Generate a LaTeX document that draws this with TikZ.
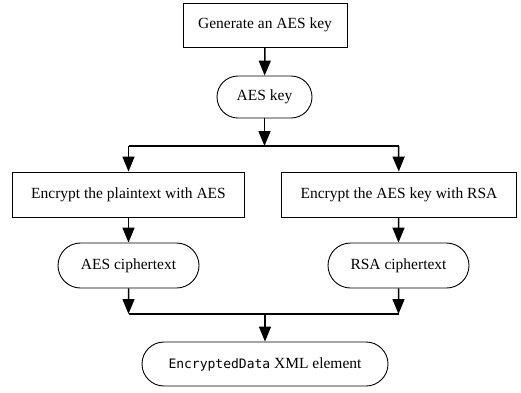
\documentclass[tikz,border=0pt]{standalone}
\usepackage{fontspec}
\setmainfont{Liberation Serif}
\setmonofont{DejaVu Sans Mono}
\usetikzlibrary{arrows.meta,shapes.misc}
\begin{document}
\begin{tikzpicture}[x=1pt,y=-1pt,
  lbl/.style={font=\fontsize{15.5}{18}\selectfont},
  proc/.style={lbl, draw, line width=0.9pt, minimum height=44pt, inner sep=0pt},
  term/.style={lbl, draw, line width=0.9pt, rounded rectangle, minimum height=44pt, inner sep=0pt},
  conn/.style={line width=1.5pt, -{Triangle[length=15pt,width=12pt]}},
  bar/.style={line width=1.5pt}]
\useasboundingbox (0,0) rectangle (521,392);
\node[proc, minimum width=164pt] (gen) at (265,25) {Generate an AES key};
\node[term, minimum width=95pt, minimum height=42pt] (key) at (264.5,97) {AES key};
\node[proc, minimum width=232pt, minimum height=45pt] (encA) at (128.5,194.5) {Encrypt the plaintext with AES};
\node[proc, minimum width=235pt, minimum height=45pt] (encR) at (399,194.5) {Encrypt the AES key with RSA};
\node[term, minimum width=141pt, minimum height=45pt] (ctA) at (128.5,265.5) {AES ciphertext};
\node[term, minimum width=141pt, minimum height=45pt] (ctR) at (398.5,265.5) {RSA ciphertext};
\node[term, minimum width=246pt] (xml) at (265,364) {{\fontsize{13}{16}\selectfont\ttfamily EncryptedData} XML element};
\coordinate (jt) at (264.5,146);
\coordinate (jl) at (128.5,146);
\coordinate (jr) at (398.5,146);
\coordinate (jb) at (265,314);
\coordinate (bl) at (128.5,314);
\coordinate (br) at (398.5,314);
\draw[conn] (gen) -- (key);
\draw[conn] (key) -- (jt);
\draw[bar] (jl) -- (jr);
\draw[conn] (jl) -- (encA);
\draw[conn] (jr) -- (encR);
\draw[conn] (encA) -- (ctA);
\draw[conn] (encR.south -| ctR) -- (ctR);
\draw[conn] (ctA) -- (bl);
\draw[conn] (ctR) -- (br);
\draw[bar] (bl) -- (br);
\draw[conn] (jb) -- (xml);
\end{tikzpicture}
\end{document}
